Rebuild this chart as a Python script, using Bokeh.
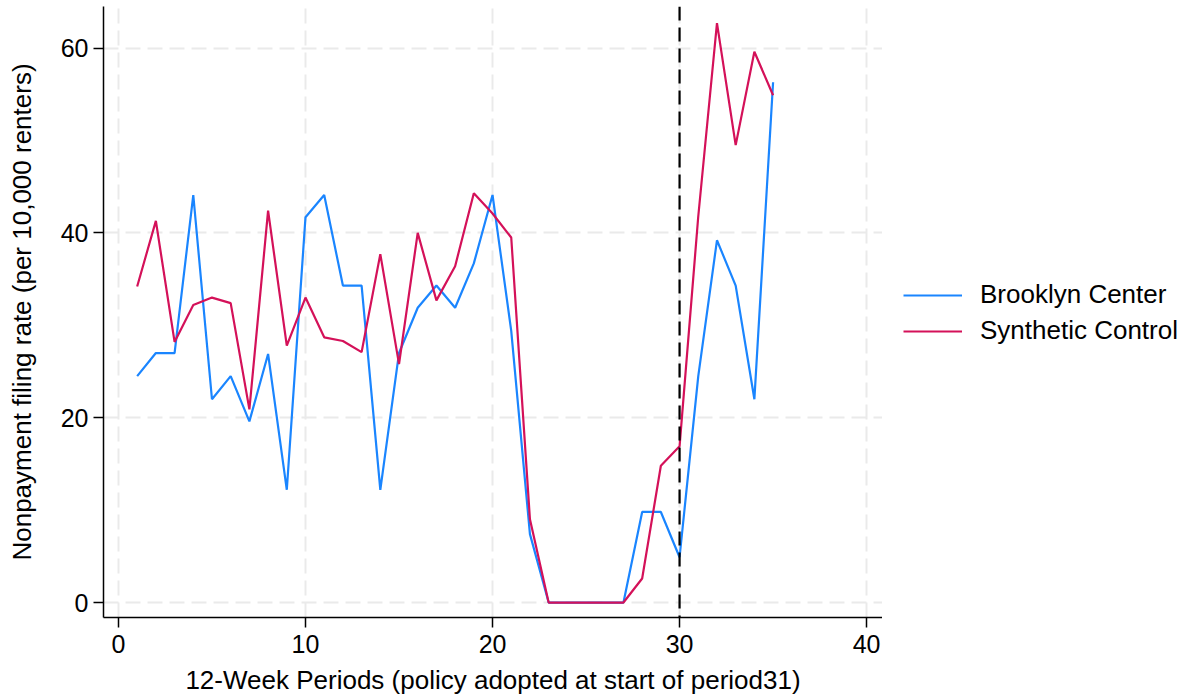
from bokeh.plotting import figure
from bokeh.layouts import row
from bokeh.models import Span, Legend, LegendItem, FixedTicker
from bokeh.embed import file_html
from bokeh.resources import INLINE

# 12-week periods and nonpayment filing rates (per 10,000 renters)
periods = list(range(1, 36))
brooklyn_center = [24.5, 27.0, 27.0, 44.1, 22.0, 24.5, 19.6, 26.9, 12.2, 41.7,
                   44.1, 34.3, 34.3, 12.2, 27.0, 31.9, 34.3, 31.9, 36.7, 44.1,
                   29.4, 7.4, 0.0, 0.0, 0.0, 0.0, 0.0, 9.8, 9.8, 4.9,
                   24.5, 39.2, 34.3, 22.0, 56.3]
synthetic_control = [34.2, 41.3, 28.2, 32.2, 33.0, 32.4, 20.9, 42.4, 27.8, 33.0,
                     28.7, 28.3, 27.1, 37.7, 25.8, 40.0, 32.7, 36.4, 44.3, 42.1,
                     39.5, 9.0, 0.0, 0.0, 0.0, 0.0, 0.0, 2.6, 14.8, 16.9,
                     41.8, 62.7, 49.5, 59.6, 54.9]
series_names = ["Brooklyn Center", "Synthetic Control"]
policy_period = 30
x_ticks = [0, 10, 20, 30, 40]
y_ticks = [0, 20, 40, 60]

FONT = "Liberation Sans"
BLUE = "#1A85FF"
RED = "#D41159"
LINE_W = 2.2

# main chart
p = figure(width=882, height=698, output_backend="svg", toolbar_location=None,
           x_range=(-0.8, 40.85), y_range=(-1.62, 64.5),
           min_border_left=103, min_border_right=0,
           min_border_top=6, min_border_bottom=81)
p.outline_line_color = None
p.background_fill_color = "white"
p.border_fill_color = "white"

for grid in (p.xgrid, p.ygrid):
    grid.grid_line_color = "#EAEAEA"
    grid.grid_line_width = 2
    grid.grid_line_dash = "15 7"

for ax in (p.xaxis, p.yaxis):
    ax.axis_line_color = "black"
    ax.axis_line_width = 1.5
    ax.major_tick_line_color = "black"
    ax.major_tick_line_width = 1.5
    ax.major_tick_out = 10
    ax.major_tick_in = 0
    ax.minor_tick_line_color = None
    ax.major_label_text_font = FONT
    ax.major_label_text_font_size = "25px"
    ax.major_label_text_color = "black"
    ax.axis_label_text_font = FONT
    ax.axis_label_text_font_size = "26px"
    ax.axis_label_text_font_style = "normal"
    ax.axis_label_text_color = "black"

p.xaxis.ticker = FixedTicker(ticks=x_ticks)
p.yaxis.ticker = FixedTicker(ticks=y_ticks)
p.xaxis.axis_label = "12-Week Periods (policy adopted at start of period31)"
p.yaxis.axis_label = "Nonpayment filing rate (per 10,000 renters)"
p.yaxis.major_label_orientation = "horizontal"
p.xaxis.major_label_standoff = 7
p.yaxis.major_label_standoff = 5
p.xaxis.axis_label_standoff = 9
p.yaxis.axis_label_standoff = 21

p.line(periods, brooklyn_center, line_color=BLUE, line_width=LINE_W)
p.line(periods, synthetic_control, line_color=RED, line_width=LINE_W)

p.add_layout(Span(location=policy_period, dimension="height", line_color="black",
                  line_width=2.2, line_dash="14 7"))

# legend panel to the right of the chart; its ranges keep the key lines off-frame
lg = figure(width=304, height=698, output_backend="svg", toolbar_location=None,
            x_range=(-10, -5), y_range=(-10, -5), min_border=0)
lg.axis.visible = False
lg.grid.visible = False
lg.outline_line_color = None
lg.background_fill_color = "white"
lg.border_fill_color = "white"
key_bc = lg.line(periods, brooklyn_center, line_color=BLUE, line_width=LINE_W)
key_sc = lg.line(periods, synthetic_control, line_color=RED, line_width=LINE_W)

legend = Legend(items=[LegendItem(label=series_names[0], renderers=[key_bc]),
                       LegendItem(label=series_names[1], renderers=[key_sc])],
                location=(21, 271), orientation="vertical",
                label_text_font=FONT, label_text_font_size="26px",
                label_text_color="black", glyph_width=59, glyph_height=28,
                label_height=28, label_standoff=18, spacing=5, padding=0,
                margin=0, border_line_color=None, background_fill_alpha=0)
lg.add_layout(legend, "center")

layout = row(p, lg)
open("out.html", "w").write(file_html(layout, INLINE))
